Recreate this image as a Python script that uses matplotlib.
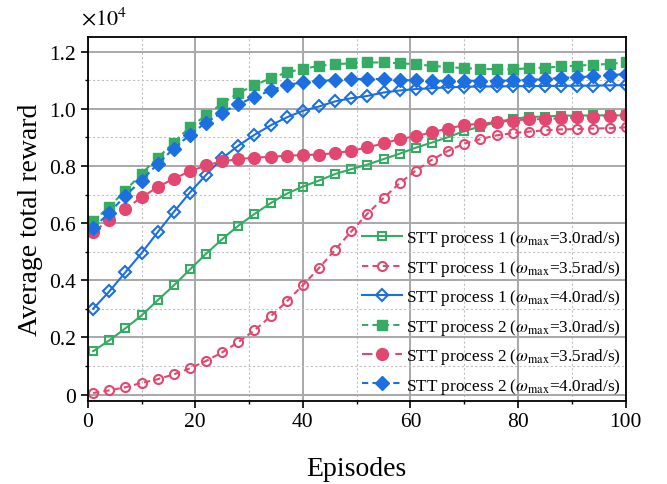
import matplotlib
matplotlib.use("Agg")
import matplotlib.pyplot as plt
from matplotlib.ticker import MultipleLocator, FuncFormatter

plt.rcParams['font.family'] = ['Liberation Serif', 'DejaVu Serif']
plt.rcParams['mathtext.fontset'] = 'stix'

# episodes where markers sit (every 3rd episode)
episodes = list(range(1, 101, 3))

# average total reward, in units of 1e4
p1_w30 = [0.152, 0.190, 0.232, 0.277, 0.330, 0.382, 0.438, 0.493, 0.544, 0.591, 0.632, 0.670, 0.703, 0.728, 0.749, 0.772, 0.789,
          0.805, 0.824, 0.843, 0.864, 0.882, 0.901, 0.922, 0.938, 0.953, 0.965, 0.971, 0.973, 0.976, 0.976, 0.977, 0.977, 0.977]
p1_w35 = [0.006, 0.015, 0.026, 0.041, 0.054, 0.071, 0.092, 0.118, 0.148, 0.184, 0.225, 0.274, 0.326, 0.383, 0.443, 0.507, 0.571,
          0.633, 0.688, 0.740, 0.784, 0.822, 0.853, 0.878, 0.894, 0.907, 0.915, 0.920, 0.925, 0.928, 0.929, 0.931, 0.932, 0.935]
p1_w40 = [0.300, 0.361, 0.428, 0.495, 0.568, 0.639, 0.707, 0.769, 0.827, 0.871, 0.909, 0.942, 0.970, 0.993, 1.008, 1.026, 1.037,
          1.045, 1.057, 1.064, 1.069, 1.072, 1.075, 1.077, 1.078, 1.078, 1.079, 1.079, 1.080, 1.080, 1.081, 1.081, 1.082, 1.083]
p2_w30 = [0.606, 0.658, 0.714, 0.773, 0.828, 0.882, 0.936, 0.977, 1.019, 1.055, 1.082, 1.107, 1.127, 1.140, 1.150, 1.156, 1.159,
          1.162, 1.162, 1.159, 1.156, 1.150, 1.146, 1.142, 1.140, 1.138, 1.138, 1.142, 1.144, 1.148, 1.151, 1.154, 1.157, 1.162]
p2_w35 = [0.569, 0.610, 0.650, 0.690, 0.726, 0.756, 0.781, 0.802, 0.816, 0.824, 0.829, 0.832, 0.836, 0.838, 0.840, 0.845, 0.853,
          0.865, 0.879, 0.894, 0.904, 0.918, 0.931, 0.943, 0.948, 0.953, 0.959, 0.963, 0.964, 0.967, 0.970, 0.972, 0.974, 0.977]
p2_w40 = [0.583, 0.636, 0.696, 0.749, 0.807, 0.861, 0.909, 0.952, 0.987, 1.016, 1.041, 1.064, 1.084, 1.092, 1.097, 1.101, 1.104,
          1.104, 1.104, 1.101, 1.099, 1.098, 1.098, 1.098, 1.098, 1.098, 1.099, 1.101, 1.104, 1.108, 1.111, 1.113, 1.117, 1.122]

labels = [r"STT process 1 ($\omega_{\rm max}$=3.0rad/s)",
          r"STT process 1 ($\omega_{\rm max}$=3.5rad/s)",
          r"STT process 1 ($\omega_{\rm max}$=4.0rad/s)",
          r"STT process 2 ($\omega_{\rm max}$=3.0rad/s)",
          r"STT process 2 ($\omega_{\rm max}$=3.5rad/s)",
          r"STT process 2 ($\omega_{\rm max}$=4.0rad/s)"]

green = '#36ab64'
red = '#e2486f'
blue = '#1c6fe0'

fig = plt.figure(figsize=(6.67, 4.85), dpi=100)
ax = fig.add_axes([0.1315, 0.1718, 0.8065, 0.7492])

ax.plot(episodes, p1_w30, color=green, ls='-', lw=1.5, marker='s', ms=5.5, mfc='none', mew=1.5, label=labels[0])
ax.plot(episodes, p1_w35, color=red, ls=(0, (3, 2)), lw=1.5, marker='o', ms=6.5, mfc='none', mew=1.5, label=labels[1])
ax.plot(episodes, p1_w40, color=blue, ls='-', lw=1.5, marker='D', ms=6, mfc='none', mew=1.5, label=labels[2])
ax.plot(episodes, p2_w30, color=green, ls=(0, (3, 2)), lw=1.5, marker='s', ms=7.5, label=labels[3])
ax.plot(episodes, p2_w35, color=red, ls=(0, (5, 3)), lw=1.5, marker='o', ms=8.5, label=labels[4])
ax.plot(episodes, p2_w40, color=blue, ls=(0, (3, 2)), lw=1.5, marker='D', ms=7.5, label=labels[5])

ax.set_xlim(0, 100)
ax.set_ylim(-0.021, 1.25)
ax.xaxis.set_major_locator(MultipleLocator(20))
ax.xaxis.set_minor_locator(MultipleLocator(10))
ax.yaxis.set_major_locator(MultipleLocator(0.2))
ax.yaxis.set_minor_locator(MultipleLocator(0.1))
ax.yaxis.set_major_formatter(FuncFormatter(lambda v, p: '0' if abs(v) < 1e-9 else '%.1f' % v))

ax.grid(which='major', color='#a8a8a8', lw=1.4, ls='-')
ax.grid(which='minor', color='#c0c0c0', lw=0.8, ls=(0, (2, 2)))
ax.set_axisbelow(True)

ax.tick_params(which='major', direction='out', length=5, width=1.2, labelsize=15.5, top=False, right=False)
ax.tick_params(which='minor', direction='out', length=2.5, width=1.0, top=False, right=False)
for s in ax.spines.values():
    s.set_linewidth(1.3)
    s.set_color('black')

ax.set_xlabel("Episodes", fontsize=20, labelpad=18)
ax.set_ylabel("Average total reward", fontsize=20, labelpad=4)
ax.text(-0.012, 1.036, r'$\times10^4$', transform=ax.transAxes, fontsize=16, ha='left', va='baseline')

ax.legend(loc='lower right', bbox_to_anchor=(1.0, 0.0), frameon=False, fontsize=12.4,
          handlelength=2.3, handletextpad=0.2, labelspacing=0.55, borderaxespad=0.1, borderpad=0.2)

plt.savefig("out.png", dpi=100)
